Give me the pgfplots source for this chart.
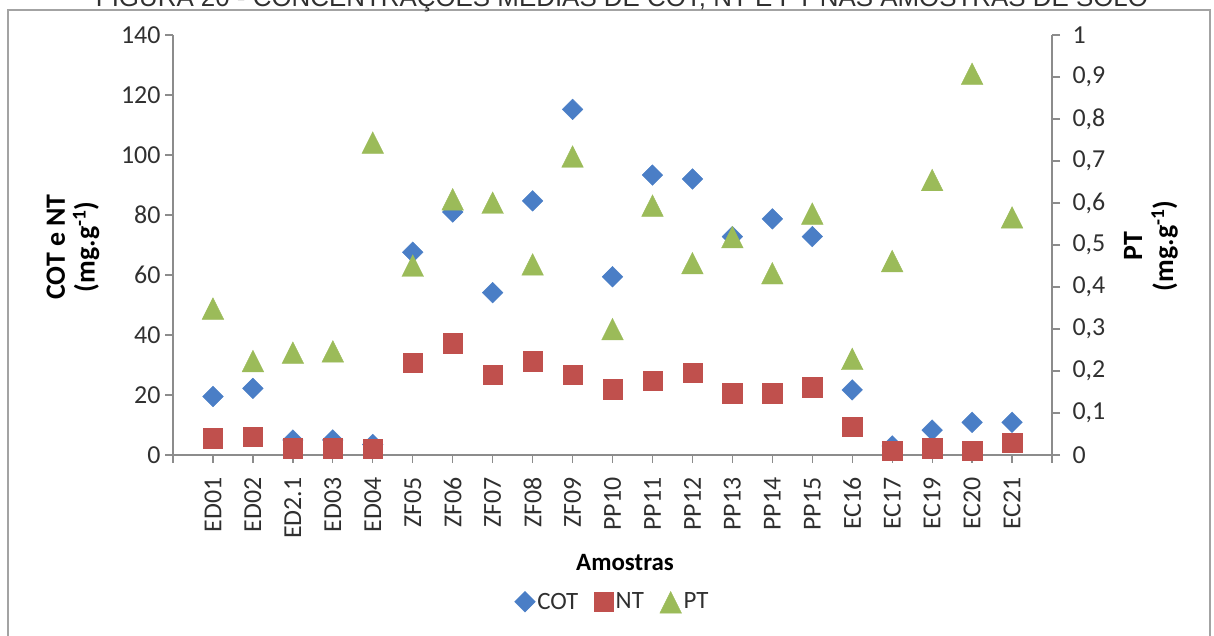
\documentclass[border=0pt]{standalone}
\usepackage{pgfplots}
\usepackage{pgfplotstable}
\pgfplotsset{compat=1.18}
\usepackage{fontspec}
\setmainfont{Carlito}
\newfontfamily\titlefont{Liberation Sans}
\definecolor{cotc}{HTML}{4A7EC6}
\definecolor{ntc}{HTML}{C0504D}
\definecolor{ptc}{HTML}{9BBB59}
\definecolor{axc}{HTML}{8C8C8C}
\definecolor{txc}{HTML}{303030}
\pgfplotstableread{
x cot nt pt
1 19.5 5.6 0.350
2 22.2 6.1 0.225
3 5.0 2.2 0.245
4 5.0 2.2 0.248
5 3.5 2.0 0.745
6 67.6 30.8 0.452
7 81.0 37.2 0.610
8 54.1 26.7 0.602
9 84.7 31.3 0.455
10 115.2 26.7 0.712
11 59.4 21.9 0.301
12 93.3 24.7 0.595
13 92.0 27.4 0.458
14 72.8 20.6 0.520
15 78.7 20.6 0.434
16 72.8 22.6 0.576
17 21.7 9.4 0.230
18 3.0 1.4 0.463
19 8.3 2.2 0.656
20 10.9 1.4 0.909
21 10.9 4.1 0.567
}\datatable
\pgfplotsset{
  base/.style={
    at={(173bp,181bp)}, anchor=south west,
    width=879bp, height=420bp, scale only axis,
    xmin=0, xmax=22, clip=false,
    axis line style={axc, line width=1.3bp},
    major tick style={axc, line width=1.3bp},
    tick align=outside, major tick length=8bp,
    tick label style={font=\fontsize{26}{30}\selectfont, text=txc},
    /pgf/number format/assume math mode=true,
  }
}
\begin{document}
\begin{tikzpicture}[x=1bp,y=1bp]
\path[use as bounding box] (0,0) rectangle (1214,636);
\draw[color=axc!80, line width=1.3bp] (8,-5) rectangle (1210,626);
\node[anchor=base, font=\titlefont\fontsize{26}{30}\selectfont, text=txc] at (622,629) {FIGURA 20 - CONCENTRAÇÕES MÉDIAS DE COT, NT E PT NAS AMOSTRAS DE SOLO};
\begin{axis}[base,
  ymin=0, ymax=140, ytick={0,20,...,140},
  axis x line*=bottom, axis y line*=left,
  xtick={0,...,22},
  xticklabels={,ED01,ED02,ED2.1,ED03,ED04,ZF05,ZF06,ZF07,ZF08,ZF09,PP10,PP11,PP12,PP13,PP14,PP15,EC16,EC17,EC19,EC20,EC21,},
  xticklabel style={rotate=90, anchor=east},
  xticklabel shift=11bp,
  yticklabel shift=1bp,
  legend columns=3,
  legend style={at={(0.5,-0.35)}, anchor=center, draw=none, fill=none,
    font=\fontsize{25}{28}\selectfont, text=txc,
    /tikz/every even column/.append style={column sep=14bp}},
  legend cell align=left,
]
\addplot[only marks, mark=square*, mark size=7.3bp, mark options={rotate=45, cotc, fill=cotc}] table[x=x, y=cot] {\datatable};
\addlegendentry{COT}
\addplot[only marks, mark=square*, mark size=9.7bp, mark options={ntc, fill=ntc}] table[x=x, y=nt] {\datatable};
\addlegendentry{NT}
\addlegendimage{only marks, mark=triangle*, mark size=12.5bp, mark options={ptc, fill=ptc, yscale=1.15, yshift=-3.6bp}}
\addlegendentry{PT}
\end{axis}
\begin{axis}[base,
  ymin=0, ymax=1, ytick={0,0.1,0.2,0.3,0.4,0.5,0.6,0.7,0.8,0.9,1},
  axis x line=none, axis y line*=right,
  yticklabel shift=9bp,
  yticklabel style={/pgf/number format/.cd, use comma, fixed, precision=1},
]
\addplot[only marks, mark=triangle*, mark size=12.5bp, mark options={ptc, fill=ptc, yscale=1.15, yshift=-3.6bp}] table[x=x, y=pt] {\datatable};
\end{axis}
\node[rotate=90, align=center, font=\bfseries\fontsize{28}{30}\selectfont, text=black] at (73,389) {COT e NT\\(mg.g\textsuperscript{-1})};
\node[rotate=90, align=center, font=\bfseries\fontsize{28}{31}\selectfont, text=black] at (1151,390) {PT\\(mg.g\textsuperscript{-1})};
\node[font=\bfseries\fontsize{25}{28}\selectfont, text=black] at (625,73) {Amostras};
\end{tikzpicture}
\end{document}
